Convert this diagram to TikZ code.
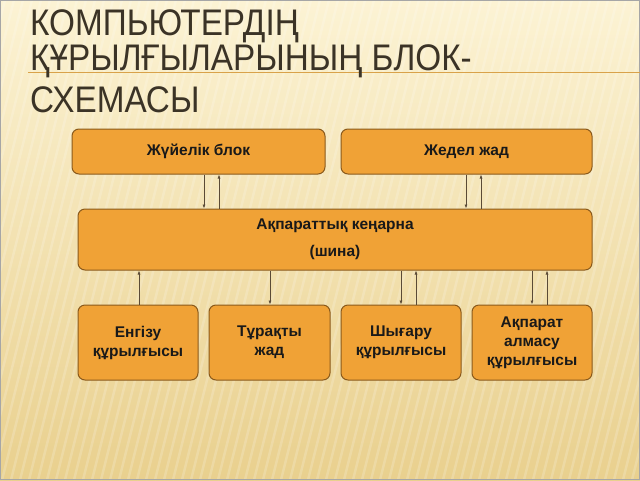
\documentclass[tikz,border=0pt]{standalone}
\usepackage{fontspec}
\setmainfont{Liberation Sans}
\newfontfamily\titlefont{Liberation Sans}
\usetikzlibrary{arrows.meta}
\definecolor{boxfill}{HTML}{F0A236}
\definecolor{boxline}{HTML}{8A5A1C}
\definecolor{bgtop}{HTML}{FCF3D4}
\definecolor{bgbot}{HTML}{E9D08E}
\definecolor{titlecol}{HTML}{3B3326}
\definecolor{rulecol}{HTML}{D9A24A}
\definecolor{arrowcol}{HTML}{5A4A36}
\tikzset{
  blockbox/.style={draw=boxline, line width=1pt, fill=boxfill, rounded corners=7pt,
    font=\bfseries\fontsize{15.5}{19}\selectfont, text=black!90, align=center, inner sep=0pt},
  link/.style={draw=arrowcol, line width=0.7pt, -{Latex[length=4pt,width=3pt]}},
  titletext/.style={font=\titlefont\fontsize{37}{44}\selectfont, text=titlecol, anchor=base west, inner sep=0pt, xscale=0.9},
  stripe/.style={white, opacity=0.18, line width=2.5pt}
}
\begin{document}
\begin{tikzpicture}[x=1pt,y=-1pt]
\useasboundingbox (0,0) rectangle (640,480);
\shade[top color=bgtop, bottom color=bgbot] (0,0) rectangle (640,480);
\begin{scope}
\clip (0,0) rectangle (640,480);
\foreach \i in {-160,-151,...,640} \draw[stripe] (\i,480) -- (\i+120,0);
\end{scope}
\draw[gray!70, line width=0.8pt] (0.4,0.4) rectangle (639.6,479.6);
% title
\draw[rulecol, line width=0.9pt] (28,72) -- (640,72);
\node[titletext] (t1) at (30,35) {КОМПЬЮТЕРДІҢ};
\node[titletext] (t2) at (30,70) {ҚҰРЫЛҒЫЛАРЫНЫҢ БЛОК-};
\node[titletext] (t3) at (30,112) {СХЕМАСЫ};
% boxes
\node[blockbox, minimum width=253pt, minimum height=45pt] (sys) at (198.5,151.5) {Жүйелік блок};
\node[blockbox, minimum width=251pt, minimum height=45pt] (ram) at (466.5,151.5) {Жедел жад};
\node[blockbox, minimum width=514pt, minimum height=61pt] (bus) at (335,239.5) {Ақпараттық кеңарна\\[8pt](шина)};
\node[blockbox, minimum width=120pt, minimum height=75pt] (in) at (138,342.5) {Енгізу\\құрылғысы};
\node[blockbox, minimum width=121pt, minimum height=75pt] (rom) at (269.5,342.5) {Тұрақты\\жад};
\node[blockbox, minimum width=120pt, minimum height=75pt] (out) at (401,342.5) {Шығару\\құрылғысы};
\node[blockbox, minimum width=120pt, minimum height=75pt] (com) at (532,342.5) {Ақпарат\\алмасу\\құрылғысы};
% x positions
\coordinate (x204) at (204,0);
\coordinate (x219) at (219,0);
\coordinate (x466) at (466,0);
\coordinate (x481) at (481,0);
\coordinate (x139) at (139,0);
\coordinate (x270) at (270,0);
\coordinate (x401) at (401,0);
\coordinate (x416) at (416,0);
\coordinate (x532) at (532,0);
\coordinate (x547) at (547,0);
% connectors
\draw[link] (sys.south -| x204) -- (bus.north -| x204);
\draw[link] (bus.north -| x219) -- (sys.south -| x219);
\draw[link] (ram.south -| x466) -- (bus.north -| x466);
\draw[link] (bus.north -| x481) -- (ram.south -| x481);
\draw[link] (in.north -| x139) -- (bus.south -| x139);
\draw[link] (bus.south -| x270) -- (rom.north -| x270);
\draw[link] (bus.south -| x401) -- (out.north -| x401);
\draw[link] (out.north -| x416) -- (bus.south -| x416);
\draw[link] (bus.south -| x532) -- (com.north -| x532);
\draw[link] (com.north -| x547) -- (bus.south -| x547);
\end{tikzpicture}
\end{document}
